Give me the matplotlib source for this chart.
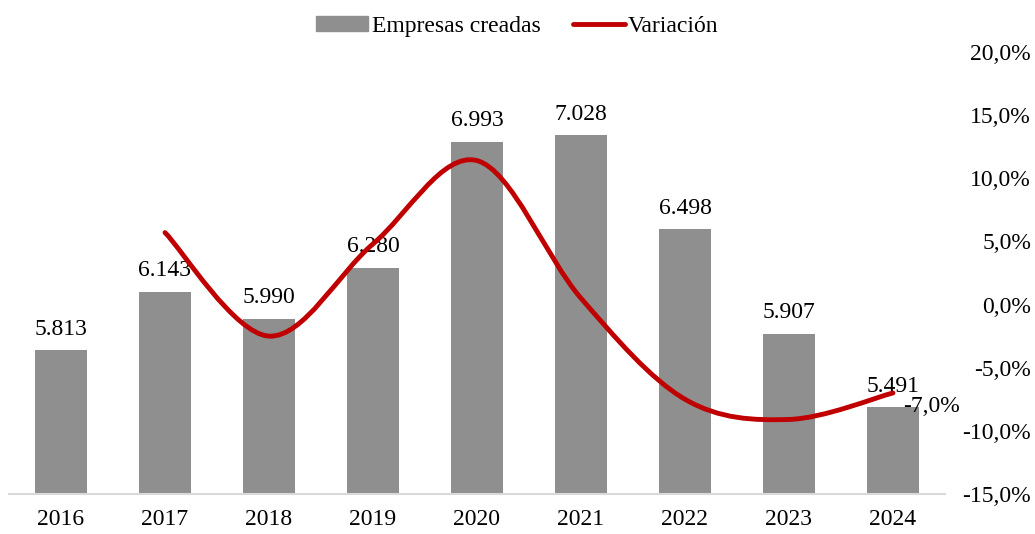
import numpy as np
import matplotlib.pyplot as plt
from matplotlib.path import Path
from matplotlib.patches import PathPatch
from matplotlib.lines import Line2D
from matplotlib.patches import Patch

plt.rcParams['font.family'] = ['Liberation Serif', 'DejaVu Serif']

# data
years = ['2016', '2017', '2018', '2019', '2020', '2021', '2022', '2023', '2024']
empresas = [5813, 6143, 5990, 6280, 6993, 7028, 6498, 5907, 5491]
bar_labels = ['5.813', '6.143', '5.990', '6.280', '6.993', '7.028', '6.498', '5.907', '5.491']
var_years = ['2017', '2018', '2019', '2020', '2021', '2022', '2023', '2024']
variacion = [5.7, -2.5, 4.8, 11.4, 0.5, -7.5, -9.1, -7.0]
right_ticks = [-15, -10, -5, 0, 5, 10, 15, 20]

bar_color = '#8f8f8f'
line_color = '#c00000'
fs = 17


def pct(v):
    return ('%.1f%%' % v).replace('.', ',')


def smooth_path(xs, ys, tension=1.0 / 6):
    # cubic bezier through the points, like a spreadsheet "smoothed line"
    pts = np.column_stack([xs, ys]).astype(float)
    verts = [pts[0]]
    codes = [Path.MOVETO]
    n = len(pts)
    for i in range(n - 1):
        p0 = pts[i - 1] if i > 0 else pts[i]
        p1 = pts[i]
        p2 = pts[i + 1]
        p3 = pts[i + 2] if i + 2 < n else pts[i + 1]
        c1 = p1 + (p2 - p0) * tension
        c2 = p2 - (p3 - p1) * tension
        verts += [c1, c2, p2]
        codes += [Path.CURVE4] * 3
    return Path(verts, codes)


fig = plt.figure(figsize=(10.35, 5.34), dpi=100)
ax = fig.add_axes([0.0087, 0.075, 0.9043, 0.8276])

x = np.arange(len(years))
ax.bar(x, empresas, width=0.5, color=bar_color, zorder=2)
for xi, v, lab in zip(x, empresas, bar_labels):
    ax.text(xi, v + 60, lab, ha='center', va='bottom', fontsize=fs)

ax.set_ylim(5000, 7500)
ax.set_xlim(-0.5, len(years) - 0.5)
ax.set_yticks([])
ax.set_xticks(x)
ax.set_xticklabels(years, fontsize=fs)
ax.tick_params(axis='x', length=0, pad=11)
for s in ['top', 'right', 'left']:
    ax.spines[s].set_visible(False)
ax.spines['bottom'].set_color('#d9d9d9')
ax.spines['bottom'].set_linewidth(1.5)

ax2 = ax.twinx()
ax2.set_ylim(-15, 20)
ax2.set_yticks(right_ticks)
ax2.set_yticklabels([pct(t) for t in right_ticks], fontsize=fs, ha='right')
ax2.tick_params(axis='y', length=0, pad=62)
for s in ax2.spines.values():
    s.set_visible(False)

vx = [years.index(y) for y in var_years]
path = smooth_path(vx, variacion)
ax2.add_patch(PathPatch(path, facecolor='none', edgecolor=line_color, lw=3.5,
                        capstyle='round', zorder=3))
ax2.text(vx[-1] + 0.1, variacion[-1] - 0.25, pct(variacion[-1]),
         ha='left', va='top', fontsize=fs)

handles = [Patch(color=bar_color, label='Empresas creadas'),
           Line2D([0], [0], color=line_color, lw=3.5, solid_capstyle='round', label='Variación')]
fig.legend(handles=handles, loc='upper center', bbox_to_anchor=(0.5, 1.01), ncol=2,
           frameon=False, fontsize=fs, handlelength=2.2, handleheight=0.6,
           columnspacing=1.35, handletextpad=0.15)

fig.savefig('out.png', dpi=100)
